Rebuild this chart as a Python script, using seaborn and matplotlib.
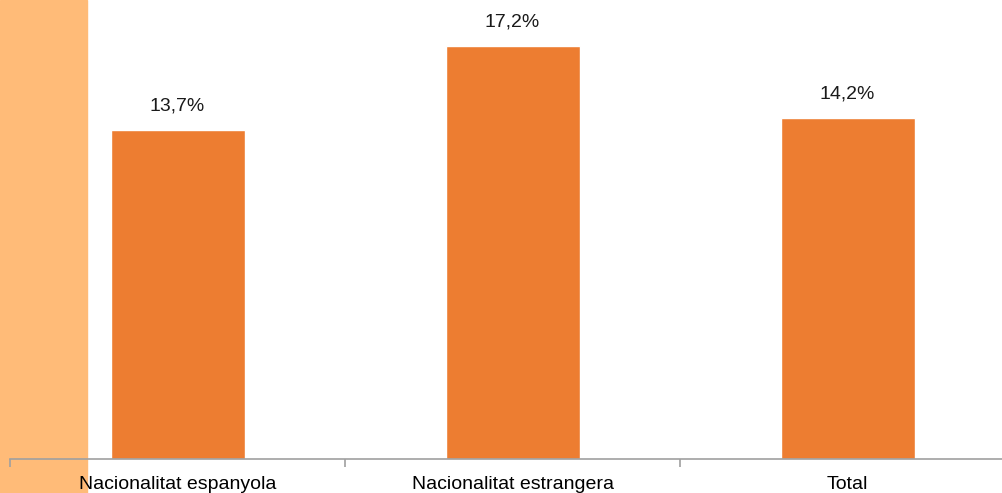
import numpy as np
import pandas as pd

import seaborn as sns
import matplotlib.pyplot as plt
from matplotlib.patches import Rectangle

categories = ['Nacionalitat espanyola', 'Nacionalitat estrangera', 'Total']
values = [13.7, 17.2, 14.2]

df = pd.DataFrame({'cat': categories, 'val': values})

sns.set_style('white')
plt.rcParams['font.family'] = ['Liberation Sans Narrow', 'Liberation Sans', 'DejaVu Sans']

fig = plt.figure(figsize=(10.02, 4.93), dpi=100)
# light orange strip on the left edge, behind the axes
fig.patches.append(Rectangle((0, 0), 87 / 1002, 1, transform=fig.transFigure,
                             color='#FFBB78', zorder=-5))

ax = fig.add_axes([10 / 1002, 34 / 493, 1005 / 1002, 459 / 493])
ax.patch.set_alpha(0)
sns.barplot(data=df, x='cat', y='val', color='#ED7D31', width=0.4,
            saturation=1, ax=ax)

ax.set_xlim(-0.5, 2.5)
ax.set_ylim(0, 459 / 24)
labels = [f"{v:.1f}%".replace('.', ',') for v in values]
ax.bar_label(ax.containers[0], labels=labels, padding=11, fontsize=14, color='#1a1a1a')

for s in ['top', 'right', 'left']:
    ax.spines[s].set_visible(False)
ax.spines['bottom'].set_color('#A0A0A0')
ax.spines['bottom'].set_linewidth(1.2)
ax.set_yticks([])
ax.set_xlabel('')
ax.set_ylabel('')
ax.tick_params(axis='x', which='major', bottom=False, length=0, pad=12,
               labelsize=14, labelcolor='#000000')
ax.set_xticks([-0.5, 0.5, 1.5, 2.5], minor=True)
ax.tick_params(axis='x', which='minor', bottom=True, length=6, width=1.2,
               color='#A0A0A0', direction='out')

fig.savefig('out.png', dpi=100)
